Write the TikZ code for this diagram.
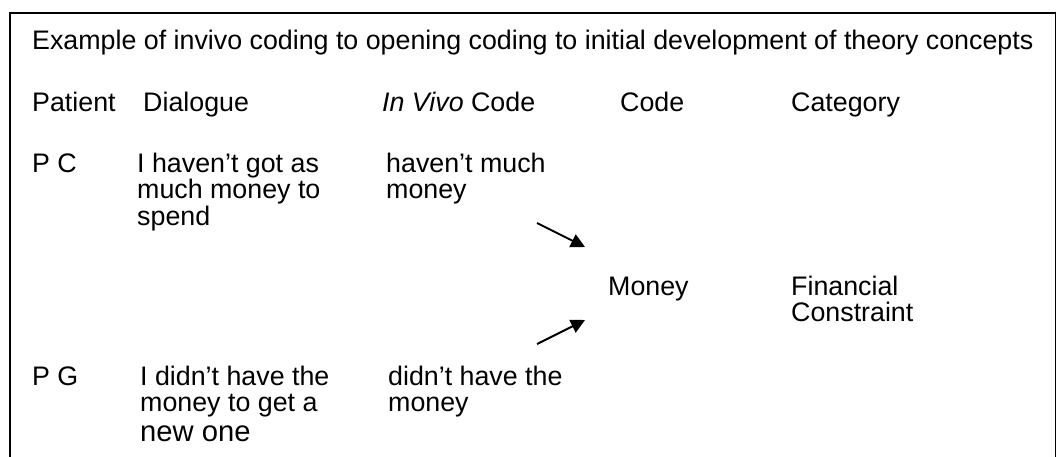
\documentclass[tikz,border=0pt]{standalone}
\usepackage{fontspec}
\setmainfont{Liberation Sans}
\usetikzlibrary{arrows.meta}
\tikzset{
  txt/.style={anchor=base west, inner sep=0pt, align=left,
    font=\fontsize{26.8pt}{26.5pt}\selectfont},
  frame/.style={line width=2pt, draw=black},
  codearrow/.style={line width=2pt, -{Triangle[length=14pt,width=14pt]}}
}
\begin{document}
\begin{tikzpicture}[x=1pt,y=-1pt]
  \useasboundingbox (0,0) rectangle (1056,456);
  % open frame round the table
  \begin{scope}
    \clip (0,0) rectangle (1056,456);
    \draw[frame] (10,470) -- (10,13) -- (1055.5,13) -- (1055.5,470);
  \end{scope}
  % title (multi-line nodes are placed by the baseline of their last line)
  \node[txt] (title) at (32,49) {Example of invivo coding to opening coding to initial development of theory concepts};
  % column heads
  \node[txt] (hpat) at (32,111) {Patient};
  \node[txt] (hdia) at (143,111) {Dialogue};
  \node[txt] (hviv) at (382,111) {\textit{In Vivo} Code};
  \node[txt] (hcod) at (620,111) {Code};
  \node[txt] (hcat) at (791,111) {Category};
  % first patient
  \node[txt] (pc) at (32,172) {P C};
  \node[txt] (pcdia) at (137,225) {I haven’t got as\\much money to\\spend};
  \node[txt] (pcviv) at (386,198.5) {haven’t much\\money};
  % code and category
  \node[txt] (code) at (608,295) {Money};
  \node[txt] (cat) at (791,321.5) {Financial\\Constraint};
  % second patient
  \node[txt] (pg) at (32,385) {P G};
  \node[txt] (pgdia) at (140,441.5) {I didn’t have the\\money to get a\\[3.5pt]{\fontsize{29.2pt}{30pt}\selectfont new one}};
  \node[txt] (pgviv) at (388,411.5) {didn’t have the\\money};
  % arrows from the in vivo codes to the code
  \coordinate (a1s) at (537,223);
  \coordinate (a1e) at (585,247);
  \coordinate (a2s) at (537,344);
  \coordinate (a2e) at (585,320);
  \draw[codearrow] (a1s) -- (a1e);
  \draw[codearrow] (a2s) -- (a2e);
\end{tikzpicture}
\end{document}
